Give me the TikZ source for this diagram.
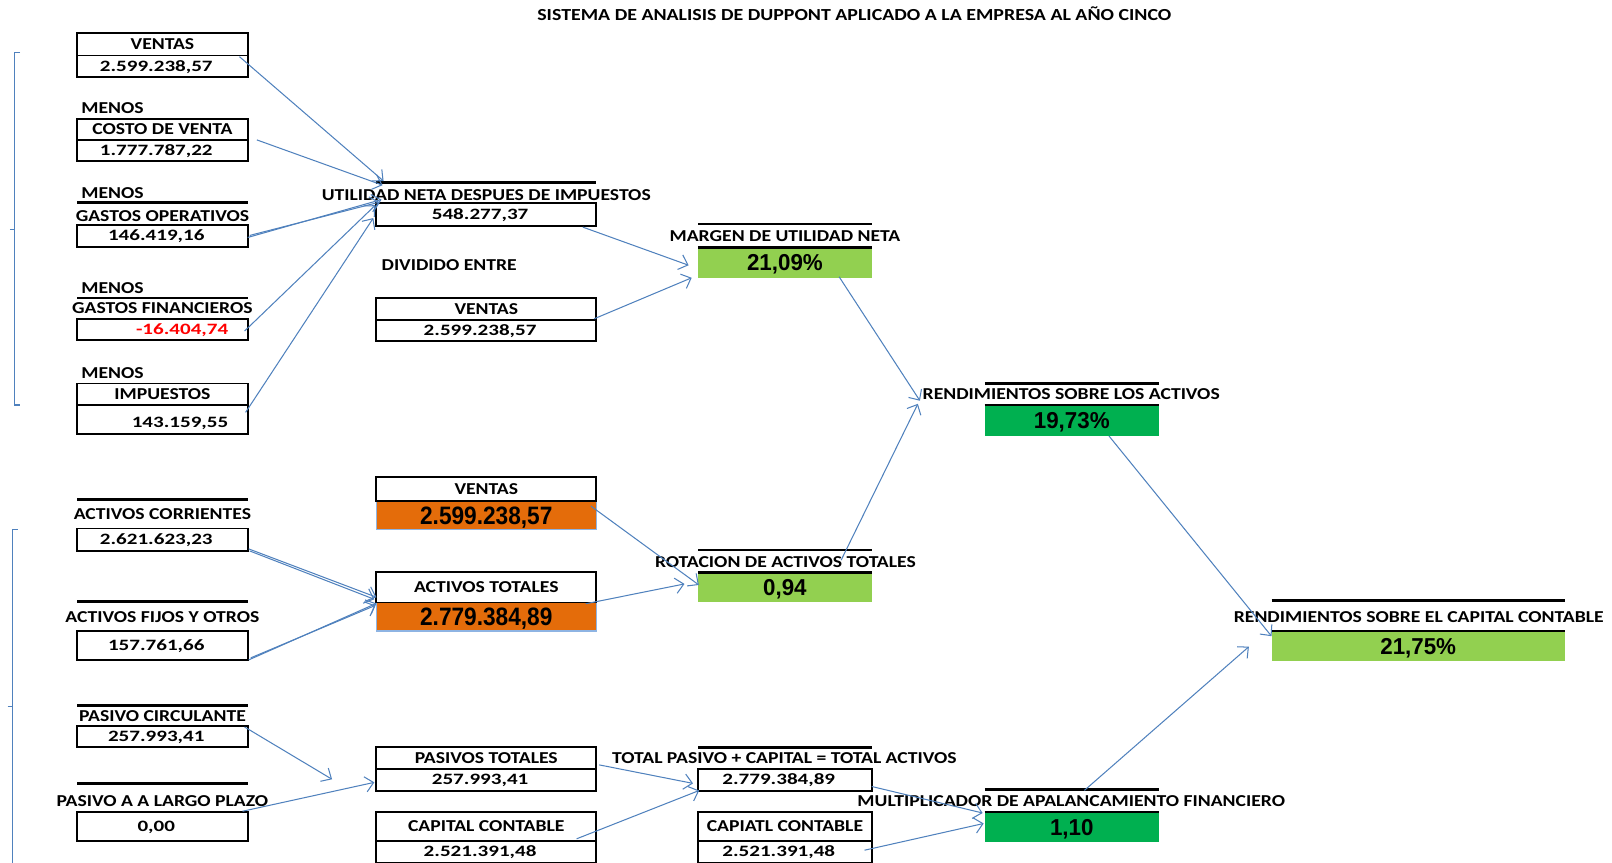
\documentclass[tikz,border=0pt]{standalone}
\usepackage{fontspec}
\usetikzlibrary{arrows.meta,calc}
\newfontfamily\lblfam[FakeStretch=1.18]{Carlito}
\newfontfamily\valfam[FakeStretch=1.33]{Carlito}
\newfontfamily\bigfam[FakeStretch=0.9]{Liberation Sans}
\newfontfamily\pctfam[FakeStretch=0.97]{Liberation Sans}
\definecolor{lnblue}{HTML}{4F81BD}
\definecolor{lgreen}{HTML}{92D050}
\definecolor{dgreen}{HTML}{00B050}
\definecolor{orng}{HTML}{E46C0A}
\definecolor{obord}{HTML}{8EB4E3}
\newcommand\sh[1]{#1\kern12pt}
\tikzset{
  lbl/.style={inner sep=0pt, text height=10.4pt, text depth=0pt, font=\lblfam\bfseries\fontsize{16.2}{16}\selectfont},
  cell/.style={draw=black, line width=1.8pt, inner sep=0pt, text height=10.4pt, text depth=0pt},
  lcell/.style={cell, font=\lblfam\bfseries\fontsize{16.2}{16}\selectfont},
  vcell/.style={cell, text height=9.8pt, font=\valfam\bfseries\fontsize{15.4}{16}\selectfont},
  ocell/.style={draw=obord, line width=1.5pt, fill=orng, inner sep=0pt, text height=17.5pt, text depth=0pt, font=\bigfam\bfseries\fontsize{24.5}{25}\selectfont},
  gcell/.style={fill=#1, inner sep=0pt, text height=16pt, text depth=0pt, font=\pctfam\bfseries\fontsize{22.4}{23}\selectfont},
  bar/.style={line width=2.6pt},
  arr/.style={draw=lnblue, line width=1pt, -{Straight Barb[length=8pt,width=15pt,line width=1pt]}},
  brk/.style={draw=lnblue, line width=1.2pt},
}
\begin{document}
\begin{tikzpicture}[x=1pt,y=-1pt]
\useasboundingbox[fill=white] (0,0) rectangle (1568,839);

\node[lbl, font=\lblfam\bfseries\fontsize{16.4}{16}\selectfont] (title) at (831,14.5) {SISTEMA DE ANALISIS DE DUPPONT APLICADO A LA EMPRESA AL AÑO CINCO};

% brackets
\draw[brk] (19.5,51) -- (14,51) -- (14,394) -- (19.5,394);
\draw[brk] (9.5,223) -- (14,223);
\draw[brk] (17.5,515) -- (12,515) -- (12,840);
\draw[brk] (7.5,687) -- (12,687);

% left column (top)
\node[lcell, minimum width=166pt, minimum height=22pt] (ventasL) at (158,43) {VENTAS};
\node[vcell, minimum width=166pt, minimum height=21pt] (ventasV) at (158,64.5) {\sh{2.599.238,57}};
\node[lbl, anchor=west] (menos1) at (79,105) {MENOS};
\node[lcell, minimum width=166pt, minimum height=20pt] (costoL) at (158,126) {COSTO DE VENTA};
\node[vcell, minimum width=166pt, minimum height=21pt] (costoV) at (158,146.5) {\sh{1.777.787,22}};
\node[lbl, anchor=west] (menos2) at (79,188) {MENOS};
\draw[bar] (75,197) -- (241,197);
\node[lbl] (gopL) at (158,210) {GASTOS OPERATIVOS};
\node[vcell, minimum width=166pt, minimum height=21pt] (gopV) at (158,229.5) {\sh{146.419,16}};
\node[lbl, anchor=west] (menos3) at (79,280) {MENOS};
\draw[bar] (75,290) -- (241,290);
\node[lbl] (gfL) at (158,300) {GASTOS FINANCIEROS};
\node[vcell, minimum width=166pt, minimum height=21pt, text=red, align=right, text width=128pt] (gfV) at (158,320.5) {-16.404,74};
\node[lbl, anchor=west] (menos4) at (79,363) {MENOS};
\node[lcell, minimum width=166pt, minimum height=21pt] (impL) at (158,383.5) {IMPUESTOS};
\node[vcell, minimum width=166pt, minimum height=28pt, align=right, text width=128pt, text height=15.8pt] (impV) at (158,408) {143.159,55};

% left column (bottom)
\draw[bar] (75,486) -- (241,486);
\node[lbl] (acL) at (158,500) {ACTIVOS CORRIENTES};
\node[vcell, minimum width=166pt, minimum height=22pt] (acV) at (158,525) {\sh{2.621.623,23}};
\draw[bar] (75,585) -- (241,585);
\node[lbl] (afL) at (158,600.5) {ACTIVOS FIJOS Y OTROS};
\node[vcell, minimum width=166pt, minimum height=28pt] (afV) at (158,628) {\sh{157.761,66}};
\draw[bar] (75,686) -- (241,686);
\node[lbl] (pcL) at (158,696.5) {PASIVO CIRCULANTE};
\node[vcell, minimum width=166pt, minimum height=21pt] (pcV) at (158,716.5) {\sh{257.993,41}};
\draw[bar] (75,762) -- (241,762);
\node[lbl] (plL) at (158,779) {PASIVO A A LARGO PLAZO};
\node[vcell, minimum width=166pt, minimum height=28pt] (plV) at (158,804) {\sh{0,00}};

% middle column
\draw[bar] (366,177.5) -- (580,177.5);
\node[lbl] (utilL) at (473,190) {UTILIDAD NETA DESPUES DE IMPUESTOS};
\node[vcell, minimum width=214pt, minimum height=22pt] (utilV) at (473,208.5) {\sh{548.277,37}};
\node[lbl, anchor=west] (divid) at (371,258) {DIVIDIDO ENTRE};
\node[lcell, minimum width=214pt, minimum height=21pt] (ventas2L) at (473,300.5) {VENTAS};
\node[vcell, minimum width=214pt, minimum height=21pt] (ventas2V) at (473,321.5) {\sh{2.599.238,57}};
\node[ocell, minimum width=214pt, minimum height=28pt] (ventas3V) at (473,501) {2.599.238,57};
\node[lcell, minimum width=214pt, minimum height=23pt] (ventas3L) at (473,475.5) {VENTAS};
\node[ocell, minimum width=214pt, minimum height=28pt] (actTV) at (473,600) {2.779.384,89};
\node[lcell, minimum width=214pt, minimum height=30pt] (actTL) at (473,571) {ACTIVOS TOTALES};
\node[lcell, minimum width=214pt, minimum height=21pt] (pasTL) at (473,737.5) {PASIVOS TOTALES};
\node[vcell, minimum width=214pt, minimum height=21pt] (pasTV) at (473,758.5) {\sh{257.993,41}};
\node[lcell, minimum width=214pt, minimum height=28pt] (capL) at (473,804) {CAPITAL CONTABLE};
\node[vcell, minimum width=214pt, minimum height=21pt] (capV) at (473,828.5) {\sh{2.521.391,48}};

% column 3
\draw[bar] (679,218) -- (848,218);
\node[lbl] (margL) at (763.5,230) {MARGEN DE UTILIDAD NETA};
\node[gcell=lgreen, minimum width=169pt, minimum height=29pt] (margV) at (763.5,255.5) {21,09\%};
\draw[bar] (margV.north west) -- (margV.north east);
\draw[bar] (679,535) -- (848,535);
\node[lbl] (rotL) at (764,546.5) {ROTACION DE ACTIVOS TOTALES};
\node[gcell=lgreen, minimum width=169pt, minimum height=29pt] (rotV) at (763.5,571.5) {0,94};
\draw[bar] (rotV.north west) -- (rotV.north east);
\draw[bar] (679,727) -- (848,727);
\node[lbl] (totL) at (763,737.5) {TOTAL PASIVO + CAPITAL = TOTAL ACTIVOS};
\node[vcell, minimum width=169pt, minimum height=21pt] (totV) at (763.5,758.5) {\sh{2.779.384,89}};
\node[lcell, minimum width=169pt, minimum height=28pt] (capiL) at (763.5,804) {CAPIATL CONTABLE};
\node[vcell, minimum width=169pt, minimum height=21pt] (capiV) at (763.5,828.5) {\sh{2.521.391,48}};

% column 4
\draw[bar] (958,373) -- (1127,373);
\node[lbl] (rsaL) at (1042,383.5) {RENDIMIENTOS SOBRE LOS ACTIVOS};
\node[gcell=dgreen, minimum width=169pt, minimum height=30pt] (rsaV) at (1042.5,409) {19,73\%};
\draw[bar] (rsaV.north west) -- (rsaV.north east);
\draw[bar] (958,768) -- (1127,768);
\node[lbl] (multL) at (1042,779) {MULTIPLICADOR DE APALANCAMIENTO FINANCIERO};
\node[gcell=dgreen, minimum width=169pt, minimum height=29pt] (multV) at (1042.5,804.5) {1,10};
\draw[bar] (multV.north west) -- (multV.north east);

% column 5
\draw[bar] (1237,584) -- (1522,584);
\node[lbl] (rsccL) at (1380,600) {RENDIMIENTOS SOBRE EL CAPITAL CONTABLE};
\node[gcell=lgreen, minimum width=285pt, minimum height=29pt] (rsccV) at (1379.5,628.5) {21,75\%};
\draw[bar] (rsccV.north west) -- (rsccV.north east);

\coordinate (pcEnd) at (323,758);

% connectors
\draw[arr] ($(ventasV.north east)+(-9,2)$) -- ($(utilV.north west)+(8,-20.5)$);
\draw[arr] ($(costoV.north east)+(8,1)$) -- ($(utilV.north west)+(7,-16.5)$);
\draw[arr] ($(gopV.east)+(-1,1.5)$) -- ($(utilV.north west)+(6,-2.5)$);
\draw[arr] ($(gopV.east)+(1,-0.5)$) -- ($(utilV.north west)+(4,0)$);
\draw[arr] ($(gfV.east)+(-4,1.5)$) -- ($(utilV.north west)+(0,3)$);
\draw[arr] ($(impV.north east)+(-3,8)$) -- ($(utilV.north west)+(-2,15.5)$);
\draw[arr] ($(utilV.south east)+(-14,0.5)$) -- ($(margV.west)+(-9,2.5)$);
\draw[arr] ($(ventas2V.north east)+(-3,0)$) -- ($(margV.south west)+(-6,0)$);
\draw[arr] ($(margV.south east)+(-32,-1)$) -- ($(rsaV.north west)+(-63,-4)$);
\draw[arr] ($(rotV.north east)+(-30,-12)$) -- ($(rsaV.north west)+(-65,-1)$);
\draw[arr] ($(rsaV.south west)+(121,0)$) -- ($(rsccV.north west)+(0,5)$);
\draw[arr] ($(multV.north west)+(97,-21)$) -- ($(rsccV.west)+(-22,0.5)$);
\draw[arr] ($(ventas3V.north east)+(-6,6)$) -- ($(rotV.west)+(1,-2.5)$);
\draw[arr] ($(actTV.north east)+(-11,2)$) -- ($(rotV.west)+(-13,-3.5)$);
\draw[arr] ($(acV.south east)+(0,-3)$) -- ($(actTL.south west)+(1,-6)$);
\draw[arr] ($(acV.south east)+(1,-1)$) -- ($(actTL.south west)+(-1,-4)$);
\draw[arr] ($(afV.south east)+(0,-1)$) -- ($(actTL.south west)+(1,0)$);
\draw[arr] ($(afV.south east)+(2,-3)$) -- ($(actTL.south west)+(0,2)$);
\draw[arr] ($(pcV.north east)+(-4,2)$) -- (pcEnd);
\draw[arr] ($(plV.north east)+(-6,0)$) -- ($(pasTV.west)+(-1,2.5)$);
\draw[arr] ($(pasTL.east)+(2,6.5)$) -- ($(totV.west)+(-4,3.5)$);
\draw[arr] ($(capL.south east)+(-20,-3)$) -- ($(totV.south west)+(2,-1)$);
\draw[arr] ($(totV.east)+(-1,6.5)$) -- ($(multV.north west)+(-2,1)$);
\draw[arr] ($(capiV.east)+(-8,-1.5)$) -- ($(multV.west)+(-1,-3.5)$);
\end{tikzpicture}
\end{document}
